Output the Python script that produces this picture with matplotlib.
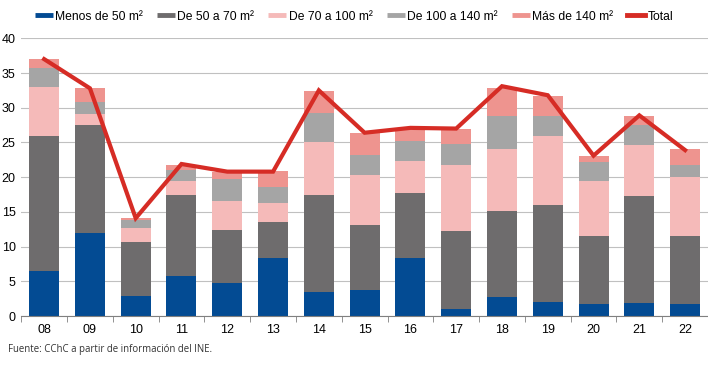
import numpy as np
import matplotlib.pyplot as plt
from matplotlib.lines import Line2D

plt.rcParams['font.family'] = ['Liberation Sans', 'DejaVu Sans']

years = ['08', '09', '10', '11', '12', '13', '14', '15', '16', '17', '18', '19', '20', '21', '22']
menos50 = [6.5, 11.9, 2.9, 5.8, 4.8, 8.3, 3.5, 3.8, 8.3, 1.0, 2.7, 2.0, 1.7, 1.9, 1.8]
de50a70 = [19.5, 15.6, 7.7, 11.6, 7.6, 5.2, 14.0, 9.3, 9.4, 11.3, 12.5, 14.0, 9.8, 15.4, 9.8]
de70a100 = [7.0, 1.6, 2.1, 2.0, 4.2, 2.8, 7.5, 7.2, 4.6, 9.5, 8.8, 10.0, 7.9, 7.4, 8.4]
de100a140 = [2.7, 1.7, 1.2, 1.6, 3.2, 2.3, 4.3, 2.9, 2.9, 3.0, 4.8, 2.8, 2.8, 2.8, 1.8]
mas140 = [1.3, 2.0, 0.2, 0.8, 1.0, 2.3, 3.1, 3.2, 1.6, 2.2, 4.1, 2.9, 0.9, 1.3, 2.2]
total = [37.0, 32.8, 14.1, 21.9, 20.8, 20.8, 32.5, 26.4, 27.1, 27.0, 33.1, 31.8, 23.1, 28.9, 23.9]

series = [
    ('Menos de 50 m²', menos50, '#034b93'),
    ('De 50 a 70 m²', de50a70, '#6e6c6d'),
    ('De 70 a 100 m²', de70a100, '#f5bab9'),
    ('De 100 a 140 m²', de100a140, '#a5a5a5'),
    ('Más de 140 m²', mas140, '#ee948f'),
]
line_color = '#d62c25'

fig = plt.figure(figsize=(7.08, 3.68), dpi=100)
ax = fig.add_axes([0.030, 0.141, 0.97, 0.755])

x = np.arange(len(years))
bottom = np.zeros(len(years))
handles = []
for name, vals, col in series:
    ax.bar(x, vals, width=0.655, bottom=bottom, color=col, zorder=2)
    bottom += np.array(vals)
    handles.append(Line2D([], [], color=col, lw=3.5, solid_capstyle='butt', label=name))

ax.plot(x, total, color=line_color, lw=3, zorder=3, solid_joinstyle='miter')
handles.append(Line2D([], [], color=line_color, lw=3.5, label='Total'))

ax.set_xlim(-0.5, len(years) - 0.5)
ax.set_ylim(0, 40)
ax.set_yticks(range(0, 41, 5))
ax.set_xticks(x)
ax.set_xticklabels(years)
ax.set_xticks(np.arange(-0.5, len(years), 1), minor=True)
ax.tick_params(axis='x', which='major', length=0, labelsize=9, pad=6)
ax.tick_params(axis='x', which='minor', length=4, color='#808080')
ax.tick_params(axis='y', length=0, labelsize=9, pad=4)
ax.grid(axis='y', color='#c0c0c0', lw=0.8, zorder=0)
for s in ['top', 'right', 'left']:
    ax.spines[s].set_visible(False)
ax.spines['bottom'].set_color('#808080')

fig.legend(handles=handles, loc='center', bbox_to_anchor=(0.5, 0.955), ncol=6, frameon=False,
           fontsize=8.7, handlelength=1.5, handletextpad=0.2, columnspacing=1.15,
           borderpad=0.2)

fig.text(0.011, 0.043, 'Fuente: CChC a partir de información del INE.', fontsize=6.9,
         family=['Open Sans', 'DejaVu Sans'], color='#333333')

plt.savefig('out.png', dpi=100)
